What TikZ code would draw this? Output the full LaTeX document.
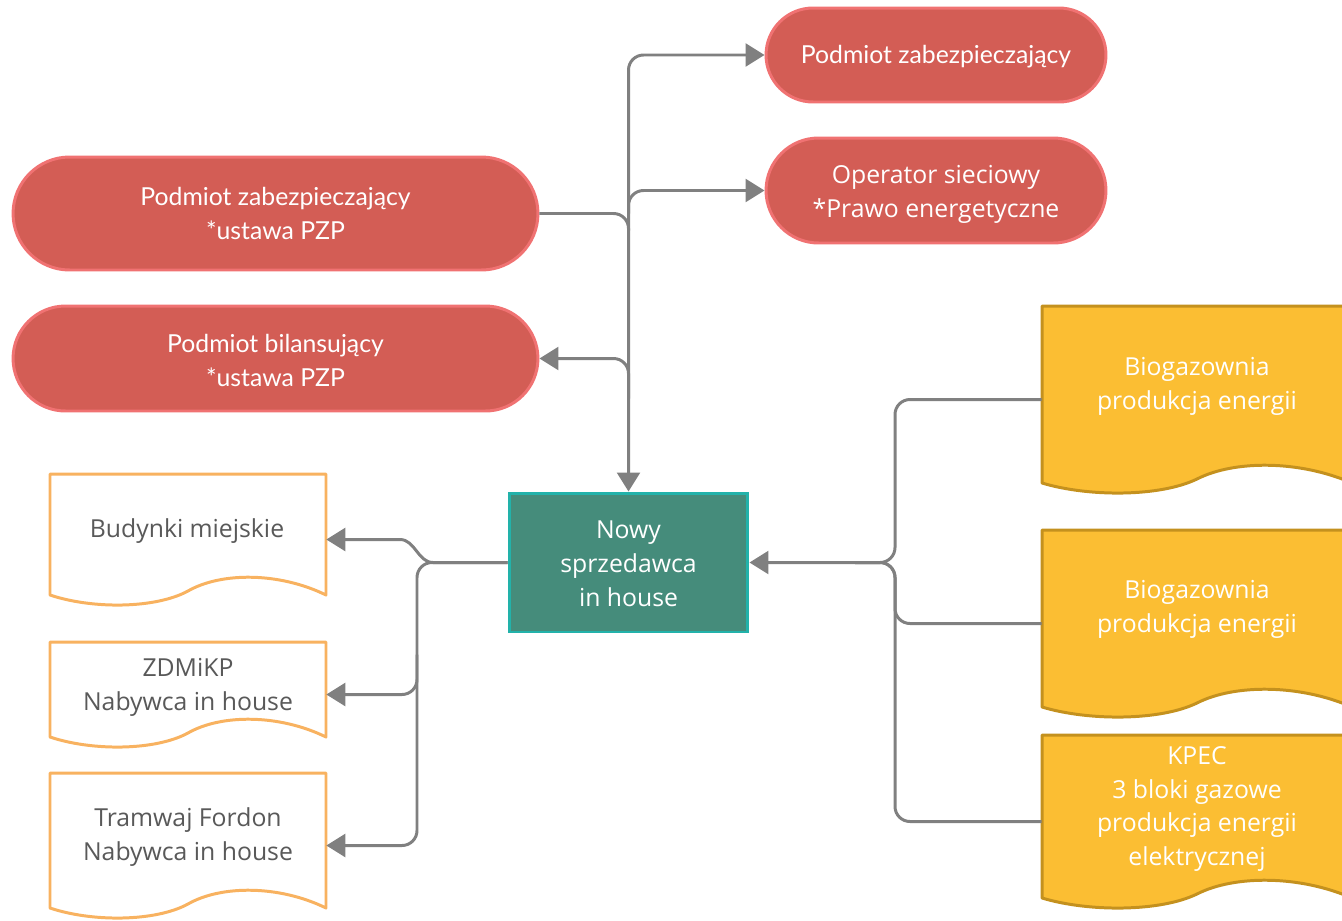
\documentclass[tikz,border=0pt]{standalone}
\usepackage{fontspec}
\setmainfont{Open Sans}
\newfontfamily\latofont{Lato}
\usetikzlibrary{arrows.meta,shapes.misc,calc}
\definecolor{redfill}{HTML}{D35D55}
\definecolor{redline}{HTML}{F07272}
\definecolor{tealfill}{HTML}{458C7B}
\definecolor{tealline}{HTML}{22B2AA}
\definecolor{yelfill}{HTML}{FBBE33}
\definecolor{yelline}{HTML}{C4911E}
\definecolor{orline}{HTML}{F8B260}
\definecolor{conncol}{HTML}{808080}
\definecolor{txtgray}{HTML}{595959}
% #1 style, #2 x0, #3 top, #4 x1, #5 bottom of sides
\newcommand\docshape[5]{%
  \pgfmathsetmacro\dw{#4-#2}%
  \draw[#1] (#2,#5) -- (#2,#3) -- (#4,#3) -- (#4,#5)
    .. controls ({#2+0.83*\dw},{#5-23}) and ({#2+0.62*\dw},{#5-23}) .. ({#2+0.5*\dw},{#5-4})
    .. controls ({#2+0.38*\dw},{#5+14}) and ({#2+0.15*\dw},{#5+14}) .. (#2,#5) -- cycle;}
\begin{document}
\begin{tikzpicture}[x=0.02cm,y=-0.02cm,
  every node/.style={font=\fontsize{14.1pt}{19.3pt}\selectfont, align=center, inner sep=0pt},
  pill/.style={shape=rounded rectangle, draw=redline, fill=redfill, line width=1.7pt, text=white},
  lato/.style={font=\latofont\fontsize{14.1pt}{19.3pt}\selectfont},
  hub/.style={rectangle, draw=tealline, fill=tealfill, line width=1.7pt, text=white,
    minimum width=4.78cm, minimum height=2.78cm},
  docbox/.style={rectangle, draw=none},
  ldoc/.style={draw=orline, fill=white, line width=1.7pt, line join=round},
  rdoc/.style={draw=yelline, fill=yelfill, line width=1.7pt, line join=round},
  ltext/.style={text=txtgray},
  rtext/.style={text=white},
  conn/.style={draw=conncol, line width=1.7pt, rounded corners=0.3cm},
  tip/.style={-{Triangle[length=10.8pt,width=13pt]}},
  rtip/.style={{Triangle[length=10.8pt,width=13pt]}-},
]
\useasboundingbox (0,0) rectangle (1342,920);

% document shapes
\docshape{ldoc}{50}{474}{326}{595}
\docshape{ldoc}{50}{642}{326}{737}
\docshape{ldoc}{50}{773}{326}{908}
\docshape{rdoc}{1042}{306}{1352}{483}
\docshape{rdoc}{1042}{530}{1352}{707}
\docshape{rdoc}{1042}{735}{1352}{898}

% anchor boxes of the document shapes
\node[docbox, minimum width=5.52cm, minimum height=2.62cm] (bud) at (188,539.5) {};
\node[docbox, minimum width=5.52cm, minimum height=2.1cm] (zd) at (188,694.5) {};
\node[docbox, minimum width=5.52cm, minimum height=2.9cm] (tram) at (188,845.5) {};
\node[docbox, minimum width=6.2cm, minimum height=3.74cm] (bio1) at (1197,399.5) {};
\node[docbox, minimum width=6.2cm, minimum height=3.74cm] (bio2) at (1197,623.5) {};
\node[docbox, minimum width=6.2cm, minimum height=3.46cm] (kpec) at (1197,821.5) {};

% texts of document shapes
\node[ltext] (budt) at (187,531) {Budynki miejskie};
\node[ltext] (zdt) at (188,687) {ZDMiKP\\Nabywca in house};
\node[ltext] (tramt) at (188,837) {Tramwaj Fordon\\Nabywca in house};
\node[rtext] (bio1t) at (1197,386) {Biogazownia\\produkcja energii};
\node[rtext] (bio2t) at (1197,609) {Biogazownia\\produkcja energii};
\node[rtext] (kpect) at (1197,809) {KPEC\\3 bloki gazowe\\produkcja energii\\elektrycznej};

% red pills
\node[pill, lato, minimum width=6.8cm, minimum height=1.88cm] (p1) at (936,55) {};
\node[lato, text=white] (p1t) at (936,57) {Podmiot zabezpieczający};
\node[pill, minimum width=6.8cm, minimum height=2.1cm] (p2) at (936,190.5) {};
\node[text=white] (p2t) at (936,194.5) {Operator sieciowy\\*Prawo energetyczne};
\node[pill, lato, minimum width=10.5cm, minimum height=2.26cm] (p3) at (275.5,213.5) {Podmiot zabezpieczający\\*ustawa PZP};
\node[pill, lato, minimum width=10.5cm, minimum height=2.1cm] (p4) at (275.5,358.5) {};
\node[lato, text=white] (p4t) at (275.5,360.5) {Podmiot bilansujący\\*ustawa PZP};

% hub
\node[hub] (tc) at (628.5,562.5) {};
\node[text=white] (tct) at (628.5,563.5) {Nowy\\sprzedawca\\in house};

\coordinate (lx) at (417,0);
\coordinate (rx) at (895,0);

% top connectors
\draw[conn,tip] (p3.east) -- (p3.east -| tc.north) -- (tc.north);
\draw[conn,tip] (p3.east -| tc.north) -- (p1.west -| tc.north) -- (p1.west);
\draw[conn,tip] ($(p2.west -| tc.north)+(0,40)$) -- (p2.west -| tc.north) -- (p2.west);
\draw[conn,rtip] (p4.east) -- (p4.east -| tc.north) -- ++(0,40);

% left connectors
\draw[conn,tip,sharp corners] (tc.west) -- (433,562.5) .. controls (418,562.5) and (415,539.5) .. (400,539.5) -- (bud.east);
\draw[conn,tip] (tc.west) -- (lx |- tc.west) -- (lx |- tram.east) -- (tram.east);
\draw[conn,tip] ($(lx |- zd.east)+(0,-40)$) -- (lx |- zd.east) -- (zd.east);

% right connectors
\draw[conn,tip] (bio1.west) -- (rx |- bio1.west) -- (rx |- tc.east) -- (tc.east);
\draw[conn] (bio2.west) -- (rx |- bio2.west) -- (rx |- tc.east) -- ++(-40,0);
\draw[conn] (kpec.west) -- (rx |- kpec.west) -- (rx |- tc.east) -- ++(-40,0);
\end{tikzpicture}
\end{document}
